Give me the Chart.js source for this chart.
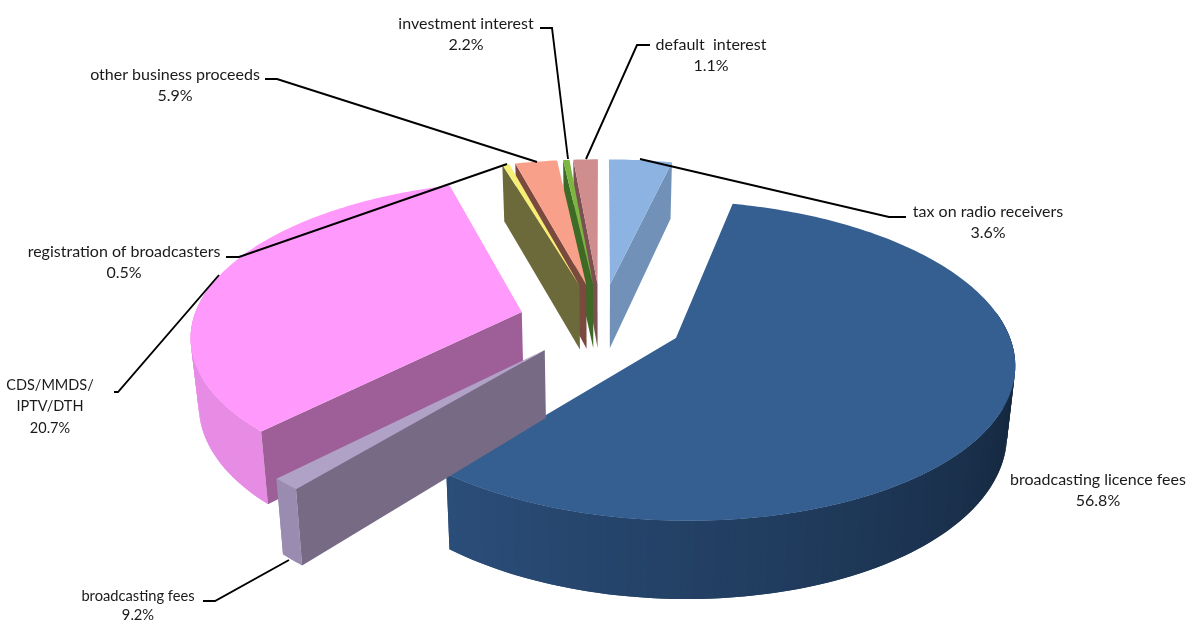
<!DOCTYPE html>
<html lang="en">

<head>
  <meta charset="UTF-8">
  <title>Revenue shares</title>
  <style>
    body {
      margin: 0;
      background-color: #ffffff;
    }

    canvas {
      display: block;
    }
  </style>
  <script src="https://cdn.jsdelivr.net/npm/chart.js@4"></script>
</head>

<body>
  <canvas id="pieChart" width="1189" height="620"></canvas>

  <script>
    // Categories, clockwise from the top of the pie
    const categories = ['tax on radio receivers', 'broadcasting licence fees', 'broadcasting fees', 'CDS/MMDS/IPTV/DTH',
      'registration of broadcasters', 'other business proceeds', 'investment interest', 'default  interest'];
    // Slice sizes as drawn in the picture (they differ from the printed percentages)
    const sliceShares = [3.6, 57.35, 1.25, 33.2, 0.4, 2.4, 0.36, 1.4];
    // Percentages as printed in the labels
    const printedShares = ['3.6%', '56.8%', '9.2%', '20.7%', '0.5%', '5.9%', '2.2%', '1.1%'];

    const topColors = ['#8db3e2', '#355f91', '#b0a2c6', '#ff99fb', '#f5ef78', '#f9a08a', '#7cb540', '#cf8d8e'];
    const cutColors = ['#7291b8', '#2b4e7a', '#766a85', '#9e5e98', '#6c6a3a', '#7a4a3f', '#3d6a25', '#7b5050'];
    const rimLight = ['#7291b8', '#2b4e7a', '#9a8cb0', '#e78ce5', '#6c6a3a', '#7a4a3f', '#3d6a25', '#7b5050'];
    const rimDark = ['#7291b8', '#14263c', '#9a8cb0', '#e78ce5', '#6c6a3a', '#7a4a3f', '#3d6a25', '#7b5050'];

    // Label text blocks and their leader lines, in category order
    const labelLines = [
      [categories[0]], [categories[1]], [categories[2]], ['CDS/MMDS/', 'IPTV/DTH'],
      [categories[4]], [categories[5]], [categories[6]], [categories[7]]
    ];
    const labelCenters = [[988, 212], [1098, 480], [138, 596], [50, 385], [124, 252], [175, 75], [466, 24], [711, 45]];
    const labelFontSizes = [16, 16, 14.7, 14.5, 16, 16, 16, 16];
    const labelLineGaps = [20.8, 20.8, 19, 21.5, 20.8, 20.8, 20.8, 20.8];
    const leaders = [
      [[640, 159], [889, 217], [906, 217]],
      [],
      [[289, 560], [215, 601], [203, 601]],
      [[219, 275], [118, 392], [114, 392]],
      [[507, 164], [239, 257], [226, 257]],
      [[537, 162], [277, 79], [265, 79]],
      [[568, 159], [552, 28], [540, 28]],
      [[586, 159], [637, 45], [650, 45]]
    ];

    // Perspective view of the tilted pie
    const CX = 601, CY = 321;
    const SCALE_X = 329, SCALE_Y = 152, DEPTH = 66, PERSPECTIVE = 0.14, EXPLODE = 0.25, BASE_SHRINK = 0.98;

    function project(u, v, down) {
      const w = 1 + PERSPECTIVE * v;
      const x = SCALE_X * u / w;
      return { x: CX + (down ? x * BASE_SHRINK : x), y: CY - SCALE_Y * v / w + (down ? DEPTH / w : 0) };
    }

    function mixColor(a, b, t) {
      const pa = parseInt(a.slice(1), 16), pb = parseInt(b.slice(1), 16);
      const ch = s => Math.round(((pa >> s) & 255) * (1 - t) + ((pb >> s) & 255) * t);
      return `rgb(${ch(16)},${ch(8)},${ch(0)})`;
    }

    function fillPoly(ctx, pts, color) {
      ctx.beginPath();
      pts.forEach((p, i) => i ? ctx.lineTo(p.x, p.y) : ctx.moveTo(p.x, p.y));
      ctx.closePath();
      ctx.fillStyle = color;
      ctx.fill();
    }

    // Draws one slice from the angles the pie controller worked out
    function drawSlice(ctx, arc, i) {
      const a0 = arc.startAngle + Math.PI / 2, a1 = arc.endAngle + Math.PI / 2;
      const mid = (a0 + a1) / 2;
      const ou = EXPLODE * Math.sin(mid), ov = EXPLODE * Math.cos(mid);
      const rimPoint = (a, down) => project(ou + Math.sin(a), ov + Math.cos(a), down);
      const apex = project(ou, ov, false), apexLow = project(ou, ov, true);

      // outer wall, front part only; strips overlap the next one so no seams show
      const step = Math.PI / 180;
      for (let a = a0; a < a1; a += step) {
        const b = Math.min(a + step * 2, a1);
        if (Math.cos(a + step / 2) > 0.17) continue;
        const t = Math.min(1, Math.max(0, (a * 180 / Math.PI - 100) / 120));
        fillPoly(ctx, [rimPoint(a, false), rimPoint(b, false), rimPoint(b, true), rimPoint(a, true)],
          mixColor(rimDark[i], rimLight[i], t));
      }

      // cut faces turned towards the viewer
      if (Math.cos(a0 - Math.PI / 2) < 0) {
        fillPoly(ctx, [apex, rimPoint(a0, false), rimPoint(a0, true), apexLow], cutColors[i]);
      }
      if (Math.cos(a1 + Math.PI / 2) < 0) {
        fillPoly(ctx, [apex, rimPoint(a1, false), rimPoint(a1, true), apexLow], cutColors[i]);
      }

      // top face
      const top = [apex];
      for (let a = a0; a < a1; a += step) top.push(rimPoint(a, false));
      top.push(rimPoint(a1, false));
      fillPoly(ctx, top, arc.options.backgroundColor);
    }

    const pie3d = {
      id: 'pie3d',
      beforeDatasetsDraw(chart) {
        const ctx = chart.ctx;
        const arcs = chart.getDatasetMeta(0).data;
        // back slices first
        const order = arcs.map((arc, i) => i).sort((p, q) => {
          const depth = k => Math.cos((arcs[k].startAngle + arcs[k].endAngle) / 2 + Math.PI / 2);
          return depth(q) - depth(p);
        });
        ctx.save();
        order.forEach(i => drawSlice(ctx, arcs[i], i));

        // leader lines
        ctx.strokeStyle = '#000000';
        ctx.lineWidth = 1.9;
        leaders.forEach(line => {
          if (!line.length) return;
          ctx.beginPath();
          line.forEach((p, j) => j ? ctx.lineTo(p[0], p[1]) : ctx.moveTo(p[0], p[1]));
          ctx.stroke();
        });

        // labels
        ctx.fillStyle = '#1a1a1a';
        ctx.textAlign = 'center';
        ctx.textBaseline = 'middle';
        labelLines.forEach((lines, i) => {
          const [x, y] = labelCenters[i];
          ctx.font = `${labelFontSizes[i]}px Lato, "Open Sans", sans-serif`;
          lines.forEach((text, j) => ctx.fillText(text, x, y + j * labelLineGaps[i]));
          ctx.fillText(printedShares[i], x, y + lines.length * labelLineGaps[i]);
        });
        ctx.restore();
        return false;
      }
    };

    new Chart(document.getElementById('pieChart').getContext('2d'), {
      type: 'pie',
      data: {
        labels: categories,
        datasets: [{ data: sliceShares, backgroundColor: topColors }]
      },
      options: {
        responsive: false,
        animation: false,
        plugins: { legend: { display: false }, tooltip: { enabled: false } }
      },
      plugins: [pie3d]
    });
  </script>
</body>

</html>
